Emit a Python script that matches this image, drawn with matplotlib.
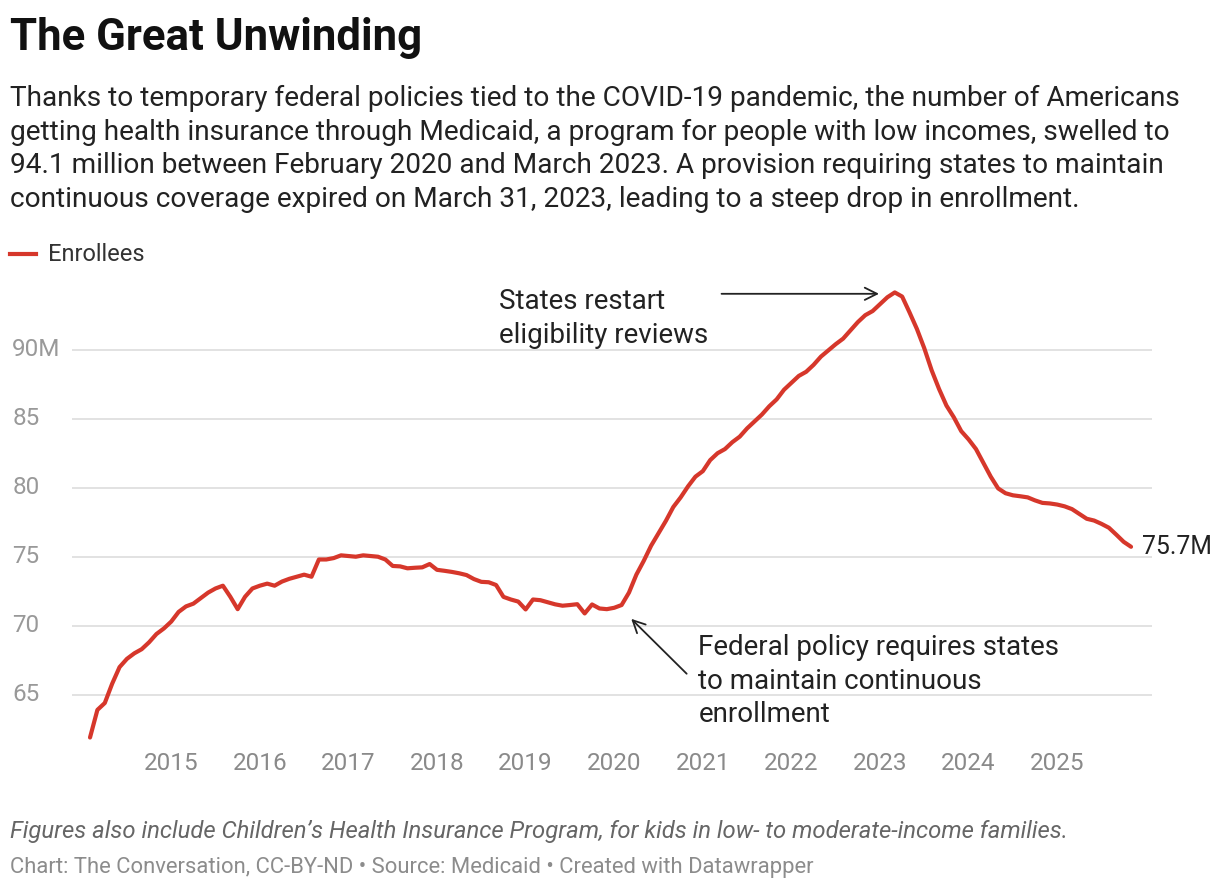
import numpy as np
import pandas as pd
import matplotlib
matplotlib.use("Agg")
import matplotlib.pyplot as plt
from matplotlib.lines import Line2D

plt.rcParams['font.family'] = ['Roboto', 'DejaVu Sans']

# Monthly Medicaid + CHIP enrollment, millions (Feb 2014 - Nov 2025)
enrollees = [
    61.9, 63.9, 64.4, 65.8, 67.0, 67.6, 68.0, 68.3, 68.8, 69.4,
    69.8, 70.3, 71.0, 71.4, 71.6, 72.0, 72.4, 72.7, 72.9, 72.1,
    71.2, 72.1, 72.7, 72.9, 73.05, 72.9, 73.2, 73.4, 73.55, 73.7,
    73.55, 74.8, 74.8, 74.9, 75.1, 75.05, 75.0, 75.1, 75.05, 75.0,
    74.8, 74.33, 74.3, 74.16, 74.2, 74.23, 74.47, 74.05, 73.98, 73.9,
    73.8, 73.67, 73.38, 73.18, 73.15, 72.95, 72.09, 71.9, 71.75, 71.18,
    71.9, 71.85, 71.7, 71.55, 71.45, 71.5, 71.56, 70.89, 71.54, 71.25,
    71.2, 71.3, 71.5, 72.4, 73.7, 74.7, 75.8, 76.7, 77.6, 78.6,
    79.3, 80.1, 80.8, 81.2, 82.0, 82.5, 82.8, 83.3, 83.7, 84.3,
    84.8, 85.3, 85.9, 86.4, 87.1, 87.6, 88.1, 88.4, 88.9, 89.5,
    89.95, 90.4, 90.8, 91.4, 92.0, 92.5, 92.8, 93.3, 93.8, 94.15,
    93.85, 92.7, 91.5, 90.1, 88.5, 87.15, 85.95, 85.1, 84.1, 83.5,
    82.8, 81.8, 80.8, 79.95, 79.6, 79.45, 79.38, 79.3, 79.08, 78.9,
    78.86, 78.78, 78.65, 78.45, 78.1, 77.75, 77.62, 77.38, 77.1, 76.6,
    76.08, 75.72,
]
dates = pd.date_range('2014-02-01', periods=len(enrollees), freq='MS')
x_years = dates.year + (dates.month - 1) / 12.0

year_ticks = list(range(2015, 2026))
y_ticks = [65, 70, 75, 80, 85, 90]
y_ticklabels = ['65', '70', '75', '80', '85', '90M']

RED = '#d6372b'
W, H = 1220, 890

fig = plt.figure(figsize=(W / 100, H / 100), dpi=100)
ax = fig.add_axes([72 / W, 1 - 740 / H, (1152 - 72) / W, (740 - 280) / H])

ax.plot(x_years, enrollees, color=RED, lw=3.0, solid_joinstyle='round',
        solid_capstyle='round', zorder=3)

ax.set_xlim(2013.88, 2026.07)
ax.set_ylim(61.72, 95.05)

ax.set_yticks(y_ticks)
ax.set_yticklabels(y_ticklabels)
ax.set_xticks(year_ticks)
ax.set_xticklabels([str(y) for y in year_ticks])
ax.tick_params(axis='y', length=0, pad=43, labelsize=17.5, labelcolor='#999999')
ax.tick_params(axis='x', length=0, pad=9, labelsize=17.5, labelcolor='#8a8a8a')
for lab in ax.get_yticklabels():
    lab.set_horizontalalignment('left')
    lab.set_verticalalignment('center')

ax.grid(axis='y', color='#e2e2e2', lw=1.4)
ax.set_axisbelow(True)
for s in ax.spines.values():
    s.set_visible(False)

# end label
ax.annotate(f'{enrollees[-1]:.1f}M', xy=(x_years[-1], enrollees[-1]),
            xytext=(8, 0), textcoords='offset points', va='center', ha='left',
            fontsize=17.8, color='#222222')

# annotations
ax.annotate('', xy=(2023.02, 94.05), xytext=(2021.18, 94.05),
            arrowprops=dict(arrowstyle='->', color='#222222', lw=1.3,
                            mutation_scale=22))
ax.text(2018.70, 92.25, 'States restart\neligibility reviews', ha='left',
        va='center', fontsize=20, color='#222222', linespacing=1.3)

ax.annotate('', xy=(2020.17, 70.64), xytext=(2020.84, 66.38),
            arrowprops=dict(arrowstyle='->', color='#222222', lw=1.3,
                            mutation_scale=22))
ax.text(2020.95, 65.98, 'Federal policy requires states\nto maintain continuous\nenrollment',
        ha='left', va='center', fontsize=20, color='#222222', linespacing=1.3)

# header
fig.text(10 / W, 1 - 50 / H, 'The Great Unwinding', fontsize=31.5, fontweight='bold',
         color='#111111', va='baseline', ha='left')
subtitle = [
    'Thanks to temporary federal policies tied to the COVID-19 pandemic, the number of Americans',
    'getting health insurance through Medicaid, a program for people with low incomes, swelled to',
    '94.1 million between February 2020 and March 2023. A provision requiring states to maintain',
    'continuous coverage expired on March 31, 2023, leading to a steep drop in enrollment.',
]
for k, line in enumerate(subtitle):
    fig.text(10 / W, 1 - (106 + 33.7 * k) / H, line, fontsize=20.2, color='#222222',
             va='baseline', ha='left')

# legend
fig.add_artist(Line2D([10 / W, 36 / W], [1 - 254 / H, 1 - 254 / H], color=RED, lw=3.0))
fig.text(48 / W, 1 - 255 / H, 'Enrollees', fontsize=17, color='#333333',
         va='center', ha='left')

# footer
fig.text(10 / W, 1 - 838 / H,
         'Figures also include Children\u2019s Health Insurance Program, for kids in low- to moderate-income families.',
         fontsize=17.2, style='italic', color='#666666', va='baseline', ha='left')
fig.text(10 / W, 1 - 873 / H,
         'Chart: The Conversation, CC-BY-ND \u2022 Source: Medicaid \u2022 Created with Datawrapper',
         fontsize=15.8, color='#8c8c8c', va='baseline', ha='left')

fig.savefig('out.png', dpi=100, facecolor='white')
